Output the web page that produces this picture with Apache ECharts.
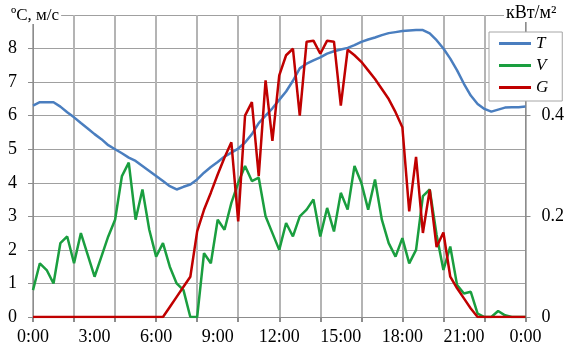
<!DOCTYPE html>
<html>
<head>
<meta charset="utf-8">
<script src="https://cdn.jsdelivr.net/npm/echarts@6/dist/echarts.min.js"></script>
<style>html,body{margin:0;padding:0;background:#fff}#c{width:567px;height:352px}</style>
</head>
<body>
<div id="c"></div>
<script>
var times = ["0:00","0:20","0:40","1:00","1:20","1:40","2:00","2:20","2:40","3:00","3:20","3:40",
"4:00","4:20","4:40","5:00","5:20","5:40","6:00","6:20","6:40","7:00","7:20","7:40",
"8:00","8:20","8:40","9:00","9:20","9:40","10:00","10:20","10:40","11:00","11:20","11:40",
"12:00","12:20","12:40","13:00","13:20","13:40","14:00","14:20","14:40","15:00","15:20","15:40",
"16:00","16:20","16:40","17:00","17:20","17:40","18:00","18:20","18:40","19:00","19:20","19:40",
"20:00","20:20","20:40","21:00","21:20","21:40","22:00","22:20","22:40","23:00","23:20","23:40","24:00"];

var T = [6.3,6.4,6.4,6.4,6.27,6.1,5.95,5.78,5.62,5.45,5.3,5.12,
5.0,4.88,4.75,4.65,4.5,4.35,4.2,4.05,3.9,3.8,3.88,3.95,
4.1,4.3,4.47,4.62,4.78,4.9,5.02,5.2,5.45,5.78,6.0,6.22,
6.47,6.72,7.04,7.41,7.55,7.65,7.74,7.85,7.92,7.97,8.02,8.1,
8.2,8.27,8.33,8.4,8.46,8.49,8.52,8.54,8.55,8.55,8.45,8.25,
8.0,7.7,7.35,6.95,6.6,6.35,6.2,6.12,6.18,6.24,6.25,6.25,6.27];

var V = [0.8,1.6,1.4,1.0,2.2,2.4,1.6,2.5,1.85,1.2,1.8,2.4,
2.9,4.2,4.6,2.9,3.8,2.6,1.8,2.2,1.5,1.0,0.8,0,
0,1.9,1.6,2.9,2.6,3.4,4.0,4.5,4.05,4.15,3.0,2.5,
2.0,2.8,2.4,3.0,3.2,3.5,2.4,3.25,2.55,3.7,3.2,4.5,
4.0,3.2,4.1,2.9,2.2,1.8,2.35,1.6,2.0,3.6,3.8,2.45,
1.4,2.1,0.95,0.7,0.75,0.1,0,0,0.18,0.05,0,0,0];

var G = [0,0,0,0,0,0,0,0,0,0,0,0,
0,0,0,0,0,0,0,0,0.02,0.04,0.06,0.08,
0.17,0.213,0.247,0.283,0.317,0.347,0.19,0.40,0.427,0.28,0.47,0.35,
0.48,0.52,0.533,0.40,0.547,0.549,0.523,0.549,0.547,0.42,0.531,0.52,
0.507,0.49,0.473,0.453,0.433,0.407,0.377,0.21,0.318,0.167,0.253,0.139,
0.168,0.08,0.057,0.037,0.017,0,0,0,0,0,0,0,0];

var leftTicks = ["0","1","2","3","4","5","6","7","8"];
var rightTicks = ["0","0.2","0.4"];
var seriesNames = ["T","V","G"];
var colors = ["#4a7ebf","#1a9e3f","#c00000"];
var leftTitle = "ºС, м/с";
var rightTitle = "кВт/м²";

var serif = "'Liberation Serif','DejaVu Serif',serif";
var gridColor = "#a0a0a0";
var axisColor = "#8c8c8c";

var chart = echarts.init(document.getElementById('c'));
chart.setOption({
  animation: false,
  backgroundColor: '#fff',
  color: colors,
  grid: {left: 33, right: 41, top: 15, bottom: 35, containLabel: false},
  xAxis: [{
    type: 'category',
    data: times,
    boundaryGap: false,
    axisLine: {lineStyle: {color: axisColor, width: 1}},
    axisTick: {show: true, interval: 5, length: 5, lineStyle: {color: axisColor, width: 2}},
    splitLine: {show: true, interval: 5, lineStyle: {color: '#b4b4b4', width: 2}},
    axisLabel: {
      interval: 8, margin: 11, color: '#000', fontFamily: serif, fontSize: 18,
      formatter: function (v) { return v === "24:00" ? "0:00" : v; }
    }
  }],
  yAxis: [{
    type: 'value', min: 0, max: 9, interval: 1,
    axisLine: {show: true, lineStyle: {color: axisColor}},
    axisTick: {show: true, length: 5, lineStyle: {color: axisColor}},
    splitLine: {show: true, lineStyle: {color: gridColor, width: 1}},
    axisLabel: {
      margin: 16, color: '#000', fontFamily: serif, fontSize: 18,
      formatter: function (v) { var s = String(v); return leftTicks.indexOf(s) >= 0 ? s : ''; }
    }
  }, {
    type: 'value', min: 0, max: 0.6, interval: 0.2, position: 'right',
    axisLine: {show: true, lineStyle: {color: axisColor}},
    axisTick: {show: true, length: 5, lineStyle: {color: axisColor}},
    splitLine: {show: false},
    axisLabel: {
      margin: 16, color: '#000', fontFamily: serif, fontSize: 18,
      formatter: function (v) { var s = String(Math.round(v * 10) / 10); return rightTicks.indexOf(s) >= 0 ? s : ''; }
    }
  }],
  legend: {
    orient: 'vertical', left: 489, top: 32,
    data: seriesNames,
    icon: 'rect', itemWidth: 32, itemHeight: 3, itemGap: 5,
    padding: [3, 14, 5, 10],
    backgroundColor: '#fff', borderColor: '#a6a6a6', borderWidth: 1,
    textStyle: {fontFamily: serif, fontStyle: 'italic', fontSize: 17, lineHeight: 16, color: '#000'}
  },
  graphic: [
    {type: 'text', left: 9, top: 7, z: 100,
     style: {text: leftTitle, font: '17px ' + serif, fill: '#000', backgroundColor: '#fff', padding: [0, 2, 0, 2]}},
    {type: 'text', left: 504, top: 4, z: 100,
     style: {text: rightTitle, font: '18px ' + serif, fill: '#000', backgroundColor: '#fff', padding: [0, 2, 0, 2]}}
  ],
  series: [
    {name: seriesNames[0], type: 'line', data: T, xAxisIndex: 0, yAxisIndex: 0, symbol: 'none', itemStyle: {color: colors[0]}, lineStyle: {width: 2.5, color: colors[0]}, z: 3},
    {name: seriesNames[1], type: 'line', data: V, xAxisIndex: 0, yAxisIndex: 0, symbol: 'none', itemStyle: {color: colors[1]}, lineStyle: {width: 2.5, color: colors[1]}, z: 4},
    {name: seriesNames[2], type: 'line', data: G, xAxisIndex: 0, yAxisIndex: 1, symbol: 'none', itemStyle: {color: colors[2]}, lineStyle: {width: 2.5, color: colors[2]}, z: 5}
  ]
});
</script>
</body>
</html>
